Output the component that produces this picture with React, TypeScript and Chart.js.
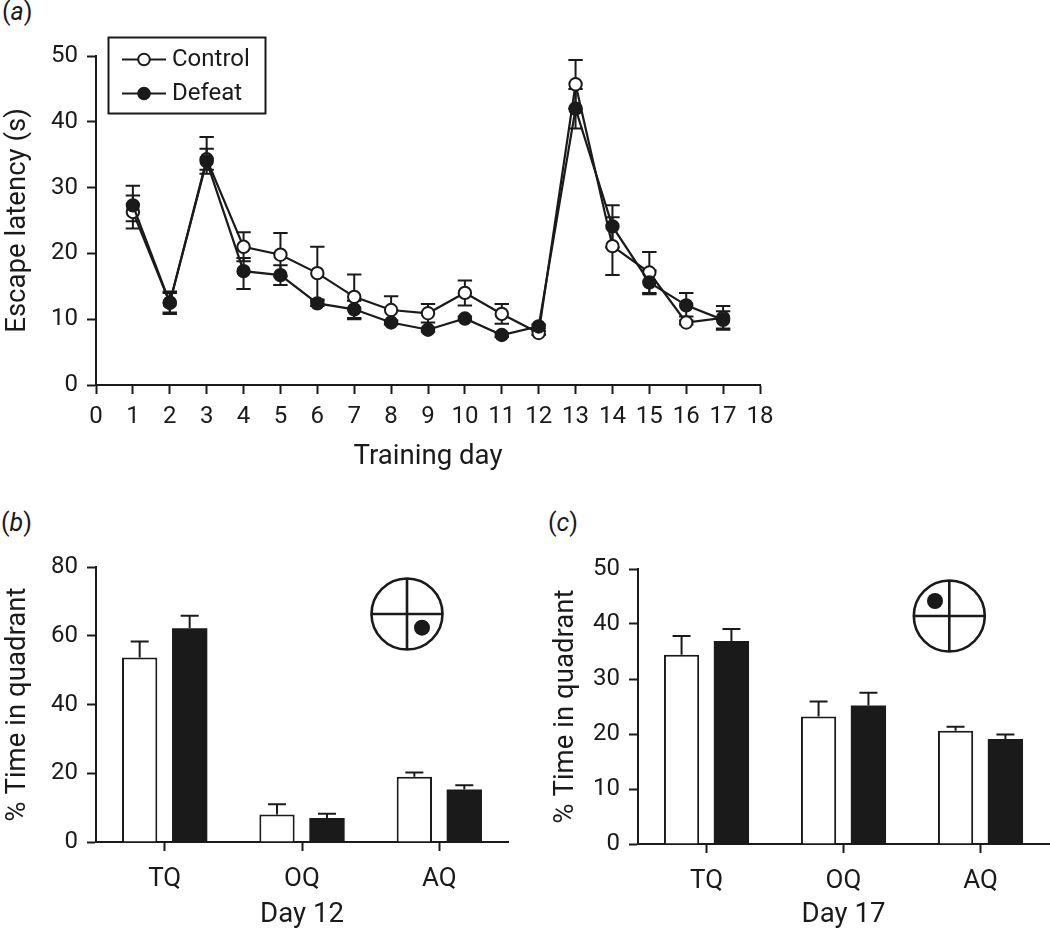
import React, { useEffect, useRef } from "react";
import { Chart, registerables } from "chart.js";

Chart.register(...registerables);

const FONT = "Roboto";
const INK = "#1a1a1a";

const days = [1, 2, 3, 4, 5, 6, 7, 8, 9, 10, 11, 12, 13, 14, 15, 16, 17];
const controlLatency = [26.3, 12.5, 34.3, 21, 19.8, 17, 13.4, 11.4, 10.9, 14, 10.8, 7.9, 45.7, 21.1, 17.1, 9.5, 10.2];
const defeatLatency = [27.3, 12.5, 34, 17.3, 16.7, 12.4, 11.5, 9.5, 8.4, 10.1, 7.6, 8.9, 42, 24.1, 15.6, 12.1, 9.9];
const controlLatencyErr = [2.5, 1.7, 1.6, 2.2, 3.3, 4, 3.4, 2.1, 1.4, 1.9, 1.5, 0.3, 3.7, 4.4, 3.1, 0.3, 1.8];
const defeatLatencyErr = [3, 1.5, 3.7, 2, 1.5, 0.4, 1.3, 0.3, 0.3, 0.3, 0.3, 0.3, 3, 3.2, 1.8, 1.9, 1.3];
const defeatLatencyErrLow = [2.4, 1.5, 1.9, 2.7, 1.5, 0.4, 1.3, 0.3, 0.3, 0.3, 0.3, 0.3, 3, 3.2, 1.8, 1.7, 1.3];

const quadrants = ["TQ", "OQ", "AQ"];
const day12Control = [53.7, 8, 19];
const day12Defeat = [62.2, 7, 15.3];
const day12ControlErr = [4.6, 3, 1.2];
const day12DefeatErr = [3.6, 1.2, 1.2];
const day17Control = [34.4, 23.2, 20.6];
const day17Defeat = [36.9, 25.2, 19.1];
const day17ControlErr = [3.4, 2.7, 0.7];
const day17DefeatErr = [2.2, 2.3, 0.8];

const errorBars = {
  id: "errorBars",
  beforeDatasetsDraw(chart: any) {
    const { ctx, scales } = chart;
    const opts = chart.config.options.errorStyle;
    chart.data.datasets.forEach((ds: any, i: number) => {
      const meta = chart.getDatasetMeta(i);
      ctx.save();
      ctx.strokeStyle = INK;
      ctx.lineWidth = opts.lineWidth;
      ds.errors.forEach((err: number, j: number) => {
        const raw = ds.data[j];
        const value = typeof raw === "number" ? raw : raw.y;
        const low = ds.errorsLow ? ds.errorsLow[j] : err;
        const x = meta.data[j].x;
        const top = scales.y.getPixelForValue(value + err);
        const bottom = scales.y.getPixelForValue(opts.both ? value - low : value);
        ctx.beginPath();
        ctx.moveTo(x, top);
        ctx.lineTo(x, bottom);
        ctx.moveTo(x - opts.cap, top);
        ctx.lineTo(x + opts.cap, top);
        if (opts.both) {
          ctx.moveTo(x - opts.cap, bottom);
          ctx.lineTo(x + opts.cap, bottom);
        }
        ctx.stroke();
      });
      ctx.restore();
    });
  },
};

const seriesKey = {
  id: "seriesKey",
  afterDraw(chart: any) {
    const { ctx } = chart;
    ctx.save();
    ctx.strokeStyle = INK;
    ctx.lineWidth = 2;
    ctx.strokeRect(108.5, 37.5, 157, 76);
    chart.data.datasets.forEach((ds: any, i: number) => {
      const y = 59.5 + i * 34;
      ctx.beginPath();
      ctx.moveTo(122, y);
      ctx.lineTo(166, y);
      ctx.stroke();
      ctx.beginPath();
      ctx.arc(144, y, 5.8, 0, Math.PI * 2);
      ctx.fillStyle = ds.pointBackgroundColor;
      ctx.fill();
      ctx.stroke();
      ctx.fillStyle = INK;
      ctx.font = `24px ${FONT}`;
      ctx.textBaseline = "middle";
      ctx.textAlign = "left";
      ctx.fillText(ds.label, 172, y);
    });
    ctx.restore();
  },
};

const quadrantIcon = {
  id: "quadrantIcon",
  afterDraw(chart: any) {
    const { ctx } = chart;
    const icon = chart.config.options.icon;
    ctx.save();
    ctx.strokeStyle = INK;
    ctx.lineWidth = 2.6;
    ctx.beginPath();
    ctx.arc(icon.cx, icon.cy, 35.5, 0, Math.PI * 2);
    ctx.moveTo(icon.cx - 35.5, icon.cy);
    ctx.lineTo(icon.cx + 35.5, icon.cy);
    ctx.moveTo(icon.cx, icon.cy - 35.5);
    ctx.lineTo(icon.cx, icon.cy + 35.5);
    ctx.stroke();
    ctx.beginPath();
    ctx.arc(icon.dx, icon.dy, 8, 0, Math.PI * 2);
    ctx.fillStyle = INK;
    ctx.fill();
    ctx.restore();
  },
};

function axisBase(titleText: string, titlePadding: any) {
  return {
    title: {
      display: true,
      text: titleText,
      color: INK,
      font: { family: FONT, size: 27.6, weight: "normal" as const },
      padding: titlePadding,
    },
    border: { display: true, color: INK, width: 2 },
    grid: { drawOnChartArea: false, drawTicks: true, tickLength: 9, tickWidth: 2, tickColor: INK },
  };
}

function ticksBase(padding: number, size: number) {
  return { color: INK, font: { family: FONT, size }, padding, autoSkip: false, maxRotation: 0, minRotation: 0 };
}

function useChart(build: () => any) {
  const ref = useRef<HTMLCanvasElement | null>(null);
  useEffect(() => {
    if (!ref.current) return;
    const chart = new Chart(ref.current, build());
    return () => chart.destroy();
  }, []);
  return ref;
}

function lineConfig() {
  const toPoints = (values: number[]) => values.map((y, i) => ({ x: days[i], y }));
  const line = { borderColor: INK, borderWidth: 2.2, pointRadius: 6.2, pointBorderColor: INK, pointBorderWidth: 2, tension: 0 };
  return {
    type: "line",
    data: {
      datasets: [
        { ...line, label: "Control", data: toPoints(controlLatency), errors: controlLatencyErr, pointBackgroundColor: "#ffffff", order: 2 },
        { ...line, label: "Defeat", data: toPoints(defeatLatency), errors: defeatLatencyErr, errorsLow: defeatLatencyErrLow, pointBackgroundColor: INK, order: 1 },
      ],
    },
    options: {
      animation: false,
      responsive: false,
      errorStyle: { lineWidth: 2, cap: 7.2, both: true },
      layout: { padding: { top: 56, right: 40, left: 0, bottom: 0 } },
      plugins: { legend: { display: false }, tooltip: { enabled: false } },
      scales: {
        x: {
          type: "linear",
          min: 0,
          max: 18,
          ...axisBase("Training day", { top: 0, bottom: 6 }),
          ticks: { ...ticksBase(9, 24), stepSize: 1 },
          afterFit: (s: any) => { s.height = 95; },
        },
        y: {
          min: 0,
          max: 50,
          ...axisBase("Escape latency (s)", { top: 2, bottom: 0 }),
          ticks: { ...ticksBase(9, 24), stepSize: 10 },
          afterFit: (s: any) => { s.width = 96; },
        },
      },
    },
    plugins: [errorBars, seriesKey],
  };
}

function barConfig(control: number[], defeat: number[], controlErr: number[], defeatErr: number[], yMax: number, step: number, xTitle: string, plot: any, icon: any) {
  const bar = { categoryPercentage: 0.728, barPercentage: 0.706, borderColor: INK };
  return {
    type: "bar",
    data: {
      labels: quadrants,
      datasets: [
        { ...bar, borderWidth: 2, label: "Control", data: control, errors: controlErr, backgroundColor: "#ffffff" },
        { ...bar, borderWidth: 0, label: "Defeat", data: defeat, errors: defeatErr, backgroundColor: INK },
      ],
    },
    options: {
      animation: false,
      responsive: false,
      errorStyle: { lineWidth: 2, cap: 9, both: false },
      icon,
      layout: { padding: plot.padding },
      plugins: { legend: { display: false }, tooltip: { enabled: false } },
      scales: {
        x: {
          ...axisBase(xTitle, { top: 0, bottom: 0 }),
          grid: { drawOnChartArea: false, drawTicks: true, tickLength: 9, tickWidth: 2, tickColor: INK, offset: false },
          ticks: ticksBase(13, 26),
          afterFit: (s: any) => { s.height = plot.axisHeight; },
        },
        y: {
          min: 0,
          max: yMax,
          ...axisBase("% Time in quadrant", { top: plot.titleInset, bottom: 0 }),
          ticks: { ...ticksBase(9, 24), stepSize: step },
          afterFit: (s: any) => { s.width = plot.axisWidth; },
        },
      },
    },
    plugins: [errorBars, quadrantIcon],
  };
}

const panelLabel = (left: number, top: number, letter: string) => (
  <span style={{ position: "absolute", left, top, font: `25px ${FONT}`, color: INK, lineHeight: "28px" }}>
    (<i>{letter}</i>)
  </span>
);

export default function App() {
  const a = useChart(lineConfig);
  const b = useChart(() =>
    barConfig(day12Control, day12Defeat, day12ControlErr, day12DefeatErr, 80, 20, "Day 12",
      { padding: { top: 47, right: 12, left: 0, bottom: 0 }, axisHeight: 90, axisWidth: 96, titleInset: 2 },
      { cx: 407, cy: 94, dx: 422, dy: 107.7 })
  );
  const c = useChart(() =>
    barConfig(day17Control, day17Defeat, day17ControlErr, day17DefeatErr, 50, 10, "Day 17",
      { padding: { top: 49, right: 1, left: 0, bottom: 0 }, axisHeight: 88, axisWidth: 98, titleInset: 10 },
      { cx: 409.3, cy: 96, dx: 395, dy: 81 })
  );
  return (
    <div style={{ position: "absolute", left: 0, top: 0, width: 1050, height: 929, background: "#fff", overflow: "hidden" }}>
      {panelLabel(2, -2, "a")}
      {panelLabel(1, 509, "b")}
      {panelLabel(548, 509, "c")}
      <canvas ref={a} width={800} height={480} style={{ position: "absolute", left: 0, top: 0 }} />
      <canvas ref={b} width={520} height={412} style={{ position: "absolute", left: 0, top: 520 }} />
      <canvas ref={c} width={510} height={412} style={{ position: "absolute", left: 540, top: 520 }} />
    </div>
  );
}
